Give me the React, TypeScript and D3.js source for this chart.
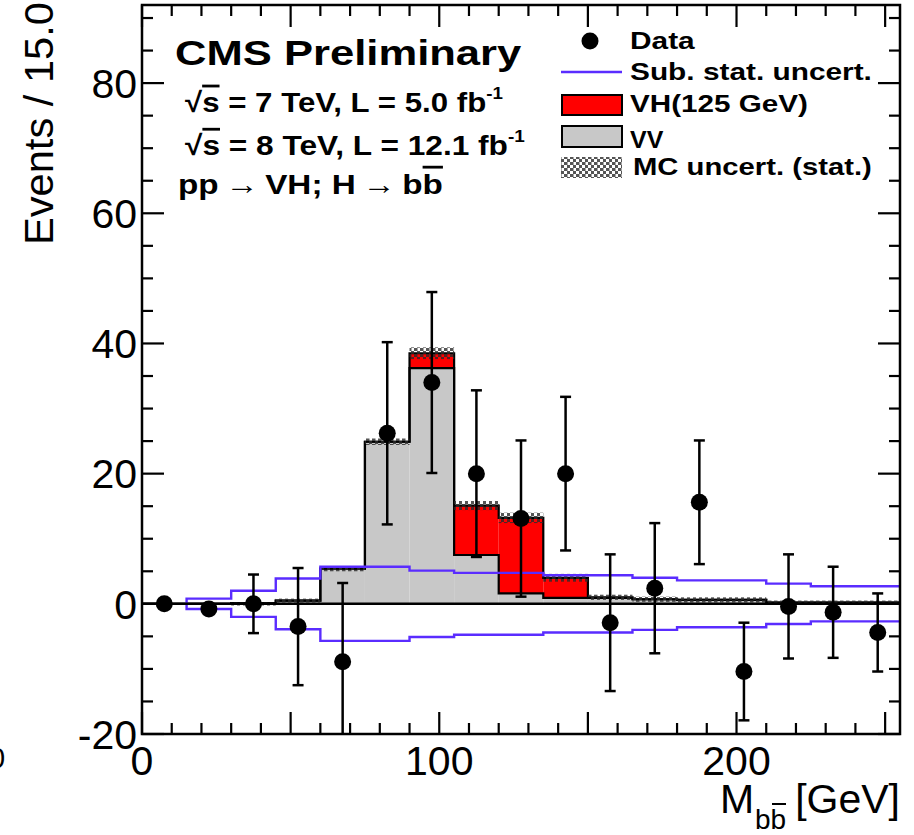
import * as d3 from "d3";
import React, { useEffect, useRef } from "react";

// 15 GeV bins, lower edges
const binLow = [0, 15, 30, 45, 60, 75, 90, 105, 120, 135, 150, 165, 180, 195, 210, 225, 240];
const binWidth = 15;

// background-subtracted data
const dataVal = [0, -0.8, 0, -3.5, -8.9, 26.2, 34.0, 20.0, 13.1, 20.0, -2.9, 2.4, 15.6, -10.4, -0.4, -1.3, -4.4];
const dataErr = [0, 0, 4.5, 9.0, 12.1, 14.0, 13.9, 12.8, 12.0, 11.8, 10.5, 10.0, 9.5, 7.5, 8.0, 7.0, 6.0];

// stacked MC
const vvVal = [0, 0, 0.1, 0.5, 5.4, 24.9, 36.2, 7.5, 1.6, 0.9, 0.9, 0.7, 0.6, 0.6, 0.2, 0.2, 0.2];
const vhVal = [0, 0, 0, 0, 0, 0, 2.3, 7.6, 11.6, 3.1, 0.1, 0, 0, 0, 0, 0, 0];
const mcErr = [0, 0, 0.1, 0.3, 0.4, 0.5, 0.9, 0.7, 0.8, 0.6, 0.4, 0.4, 0.4, 0.4, 0.3, 0.3, 0.3];

// subtracted background stat. uncertainty (drawn +/-)
const subUnc = [0, 0.8, 2.0, 3.9, 5.7, 5.7, 5.1, 4.75, 4.75, 4.4, 4.4, 4.0, 3.6, 3.6, 3.1, 2.7, 2.7];

const xMajorTicks = [0, 50, 100, 150, 200, 250];
const xTickLabels = [0, 100, 200];
const yTickLabels = [-20, 0, 20, 40, 60, 80];

const FONT = "'Liberation Sans', Arial, Helvetica, sans-serif";
const BLUE = "#5a2cff";

export default function App() {
  const svgRef = useRef(null);

  useEffect(() => {
    const svg = d3.select(svgRef.current);
    svg.selectAll("*").remove();

    const left = 142, right = 900, top = 5, bottom = 734;
    const x = d3.scaleLinear().domain([0, 255]).range([left, right]);
    const y = d3.scaleLinear().domain([-20, 92]).range([bottom, top]);

    const bins = binLow.map((b, i) => ({
      lo: b, hi: b + binWidth, vv: vvVal[i], tot: vvVal[i] + vhVal[i], mc: mcErr[i],
    }));

    const defs = svg.append("defs");
    defs.append("clipPath").attr("id", "plotClip")
      .append("rect").attr("x", left).attr("y", top)
      .attr("width", right - left).attr("height", bottom - top);
    const pat = defs.append("pattern").attr("id", "mcHatch")
      .attr("patternUnits", "userSpaceOnUse").attr("width", 6).attr("height", 6);
    pat.append("rect").attr("x", 0).attr("y", 0).attr("width", 3.5).attr("height", 3).attr("fill", "#2b2b2b");
    pat.append("rect").attr("x", 3).attr("y", 3).attr("width", 3.5).attr("height", 3).attr("fill", "#2b2b2b");

    const plot = svg.append("g").attr("clip-path", "url(#plotClip)");

    // fills
    plot.selectAll(".vv").data(bins).enter().append("rect")
      .attr("x", (d) => x(d.lo)).attr("width", (d) => x(d.hi) - x(d.lo))
      .attr("y", (d) => y(d.vv)).attr("height", (d) => y(0) - y(d.vv))
      .attr("fill", "#c8c8c8");
    plot.selectAll(".vh").data(bins).enter().append("rect")
      .attr("x", (d) => x(d.lo)).attr("width", (d) => x(d.hi) - x(d.lo))
      .attr("y", (d) => y(d.tot)).attr("height", (d) => y(d.vv) - y(d.tot))
      .attr("fill", "#ff0000");

    const step = (vals, from) => {
      const pts = [[binLow[from], 0]];
      binLow.forEach((b, i) => {
        if (i < from) return;
        pts.push([b, vals[i]], [b + binWidth, vals[i]]);
      });
      return pts;
    };
    const line = d3.line().x((d) => x(d[0])).y((d) => y(d[1]));

    plot.append("path").attr("d", line([...step(bins.map((d) => d.tot), 0), [255, 0]]))
      .attr("fill", "none").attr("stroke", "#000").attr("stroke-width", 2.2);
    plot.append("path").attr("d", line([...step(vvVal, 0), [255, 0]]))
      .attr("fill", "none").attr("stroke", "#000").attr("stroke-width", 2.2);

    // MC stat band
    plot.selectAll(".mc").data(bins.filter((d) => d.mc > 0)).enter().append("rect")
      .attr("x", (d) => x(d.lo)).attr("width", (d) => x(d.hi) - x(d.lo))
      .attr("y", (d) => y(d.tot + d.mc))
      .attr("height", (d) => Math.max(3, y(d.tot - d.mc) - y(d.tot + d.mc)))
      .attr("fill", "url(#mcHatch)").attr("opacity", 0.8);

    // sub. stat. uncert.
    plot.append("path").attr("d", line(step(subUnc, 1)))
      .attr("fill", "none").attr("stroke", BLUE).attr("stroke-width", 2.4);
    plot.append("path").attr("d", line(step(subUnc.map((v) => -v), 1)))
      .attr("fill", "none").attr("stroke", BLUE).attr("stroke-width", 2.4);

    // zero line
    plot.append("line").attr("x1", x(0)).attr("x2", x(255)).attr("y1", y(0)).attr("y2", y(0))
      .attr("stroke", "#000").attr("stroke-width", 2.4);

    // data
    const cx = (i) => x(binLow[i] + binWidth / 2);
    binLow.forEach((b, i) => {
      if (dataErr[i] <= 0) return;
      const lo = dataVal[i] - dataErr[i], hi = dataVal[i] + dataErr[i];
      plot.append("line").attr("x1", cx(i)).attr("x2", cx(i)).attr("y1", y(lo)).attr("y2", y(hi))
        .attr("stroke", "#000").attr("stroke-width", 2.5);
      [lo, hi].forEach((v) => {
        plot.append("line").attr("x1", cx(i) - 5.5).attr("x2", cx(i) + 5.5).attr("y1", y(v)).attr("y2", y(v))
          .attr("stroke", "#000").attr("stroke-width", 2.5);
      });
    });
    plot.selectAll(".pt").data(dataVal).enter().append("circle")
      .attr("cx", (d, i) => cx(i)).attr("cy", (d) => y(d)).attr("r", 8.5).attr("fill", "#000");

    // frame + ticks
    svg.append("rect").attr("x", left).attr("y", top).attr("width", right - left).attr("height", bottom - top)
      .attr("fill", "none").attr("stroke", "#000").attr("stroke-width", 2.5);
    const ticks = svg.append("g").attr("stroke", "#000").attr("stroke-width", 2.2);
    d3.range(0, 256, 10).forEach((t) => {
      const len = xMajorTicks.includes(t) ? 22 : 11;
      ticks.append("line").attr("x1", x(t)).attr("x2", x(t)).attr("y1", bottom).attr("y2", bottom - len);
      ticks.append("line").attr("x1", x(t)).attr("x2", x(t)).attr("y1", top).attr("y2", top + len);
    });
    d3.range(-20, 92, 5).forEach((t) => {
      const len = yTickLabels.includes(t) ? 22 : 11;
      ticks.append("line").attr("x1", left).attr("x2", left + len).attr("y1", y(t)).attr("y2", y(t));
      ticks.append("line").attr("x1", right).attr("x2", right - len).attr("y1", y(t)).attr("y2", y(t));
    });

    // tick labels
    const lab = svg.append("g").attr("font-family", FONT).attr("font-size", 41).attr("fill", "#000");
    yTickLabels.forEach((t) => {
      lab.append("text").attr("x", 137).attr("y", y(t)).attr("dy", "0.36em")
        .attr("text-anchor", "end").text(t);
    });
    xTickLabels.forEach((t) => {
      lab.append("text").attr("x", x(t)).attr("y", 775).attr("text-anchor", "middle").text(t);
    });
    // stray label from neighbouring panel
    lab.append("text").attr("x", -11).attr("y", 768).attr("font-size", 29).text("0");

    // stretched text helper
    const stretched = (xLeft, base, width, size, weight, build, rotate = false) => {
      const g = svg.append("g");
      const t = g.append("text").attr("font-family", FONT).attr("font-size", size)
        .attr("font-weight", weight).attr("fill", "#000");
      build(t);
      const bb = t.node().getBBox();
      const s = width / bb.width;
      if (rotate) g.attr("transform", `translate(${xLeft},${base}) rotate(-90) scale(${s},1) translate(${-bb.x},0)`);
      else g.attr("transform", `translate(${xLeft},${base}) scale(${s},1) translate(${-bb.x},0)`);
    };

    // axis titles
    stretched(53, 245, 243, 40, "normal", (t) => t.text("Events / 15.0"), true);
    const xt = svg.append("g").attr("font-family", FONT).attr("fill", "#000");
    xt.append("text").attr("x", 720).attr("y", 813).attr("font-size", 41).text("M");
    xt.append("text").attr("x", 755).attr("y", 829).attr("font-size", 28).text("bb");
    xt.append("line").attr("x1", 772).attr("x2", 786).attr("y1", 804).attr("y2", 804)
      .attr("stroke", "#000").attr("stroke-width", 2);
    xt.append("text").attr("x", 900).attr("y", 813).attr("font-size", 41)
      .attr("text-anchor", "end").text("[GeV]");

    // CMS text block
    stretched(175, 65, 347, 35, "bold", (t) => t.text("CMS Preliminary"));
    const sqrtLine = (energy, lumi) => (t) => {
      t.append("tspan").text("\u221A");
      t.append("tspan").style("text-decoration", "overline").text("s");
      t.append("tspan").text(` = ${energy} TeV, L = ${lumi} fb`);
      t.append("tspan").attr("font-size", "0.6em").attr("dy", "-0.75em").text("-1");
    };
    stretched(185, 112, 318, 28, "bold", sqrtLine(7, "5.0"));
    stretched(185, 155, 340, 28, "bold", sqrtLine(8, "12.1"));
    stretched(178, 194, 265, 28, "bold", (t) => {
      t.append("tspan").text("pp\u2009\u2192\u2009VH; H\u2009\u2192\u2009b");
      t.append("tspan").style("text-decoration", "overline").text("b");
    });

    // legend
    const leg = svg.append("g");
    leg.append("circle").attr("cx", 590).attr("cy", 41).attr("r", 8.5).attr("fill", "#000");
    leg.append("line").attr("x1", 561).attr("x2", 622).attr("y1", 72).attr("y2", 72)
      .attr("stroke", BLUE).attr("stroke-width", 2.4);
    leg.append("rect").attr("x", 562).attr("y", 95).attr("width", 60).attr("height", 20)
      .attr("fill", "#ff0000").attr("stroke", "#000").attr("stroke-width", 2);
    leg.append("rect").attr("x", 562).attr("y", 126).attr("width", 60).attr("height", 21)
      .attr("fill", "#c8c8c8").attr("stroke", "#000").attr("stroke-width", 2);
    leg.append("rect").attr("x", 561).attr("y", 157).attr("width", 61).attr("height", 21)
      .attr("fill", "url(#mcHatch)").attr("opacity", 0.8);
    stretched(630, 49, 65, 23, "bold", (t) => t.text("Data"));
    stretched(630, 80, 242, 23, "bold", (t) => t.text("Sub. stat. uncert."));
    stretched(630, 112, 178, 23, "bold", (t) => t.text("VH(125 GeV)"));
    stretched(630, 148, 34, 23, "bold", (t) => t.text("VV"));
    stretched(633, 175, 239, 23, "bold", (t) => t.text("MC uncert. (stat.)"));
  }, []);

  return (
    <svg ref={svgRef} width={914} height={835}
      style={{ position: "absolute", left: 0, top: 0, background: "#fff" }} />
  );
}
